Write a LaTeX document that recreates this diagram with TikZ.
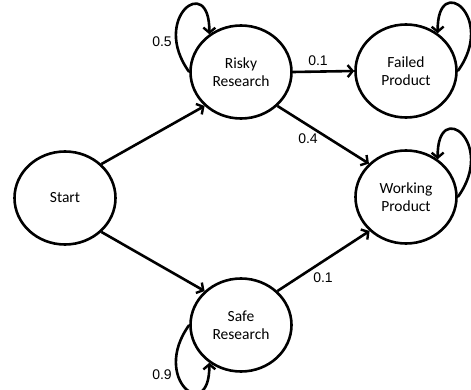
\documentclass[tikz,border=0pt]{standalone}
\usepackage{fontspec}
\setmainfont{Carlito}
\newfontfamily\numfont{Liberation Sans}
\usetikzlibrary{shapes.geometric,arrows.meta}
\begin{document}
\begin{tikzpicture}[x=1pt,y=-1pt,
  state/.style={ellipse,draw,line width=2.6pt,minimum width=101pt,minimum height=93pt,inner sep=0pt,align=center,font=\fontsize{15.5}{18}\selectfont},
  edge/.style={line width=2.6pt,-{Straight Barb[length=5pt,width=12pt,line width=2.4pt]}},
  prob/.style={font=\numfont\fontsize{14}{16}\selectfont,inner sep=0pt}]
\useasboundingbox (0,0) rectangle (471,390);
\node[state] (S) at (65,198) {Start};
\node[state] (R) at (241,72) {Risky\\Research};
\node[state] (F) at (406,71) {Failed\\Product};
\node[state] (W) at (406,197) {Working\\Product};
\node[state] (A) at (241,325) {Safe\\Research};
\draw[edge] (S.43) -- (R.223);
\draw[edge] (S.-43) -- (A.137);
\draw[edge] (R.east) -- (F.west);
\draw[edge] (R.-43) -- (W.138);
\draw[edge] (A.43) -- (W.223);
\draw[edge] (R.west) .. controls (150,18) and (210,-28) .. (R.130);
\draw[edge] (F.east) .. controls (497,17) and (437,-29) .. (F.50);
\draw[edge] (W.east) .. controls (497,143) and (437,97) .. (W.50);
\draw[edge] (A.west) .. controls (150,379) and (210,425) .. (A.230);
\node[prob] (l1) at (162,42) {0.5};
\node[prob] (l2) at (318,61) {0.1};
\node[prob] (l3) at (308,139) {0.4};
\node[prob] (l4) at (323,278) {0.1};
\node[prob] (l5) at (162,375) {0.9};
\end{tikzpicture}
\end{document}
